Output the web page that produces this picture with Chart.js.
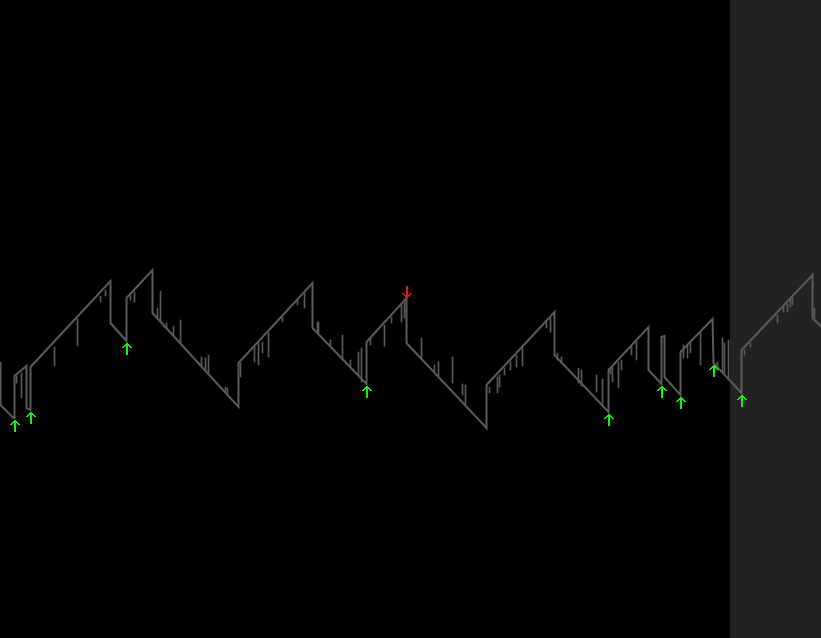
<!DOCTYPE html>
<html>
<head>
<meta charset="utf-8">
<script src="https://cdn.jsdelivr.net/npm/chart.js@4/dist/chart.umd.min.js"></script>
<style>
  html, body { margin: 0; padding: 0; background: #000; overflow: hidden; }
  #wrap { width: 821px; height: 638px; }
</style>
</head>
<body>
<div id="wrap"><canvas id="c" width="821" height="638"></canvas></div>
<script>
// ---- Data (bar index on x, price level on y) ----
// Close path turning points
const pathX = [0,0,13,14,14,26,26,30,30,110,110,126,126,152,152,238,238,312,312,366,366,406,406,486,486,554,554,608,608,648,648,661,661,664,664,680,680,712,713,741,741,812,812,821];
const pathPrice = [276,233,220,220,262,272,230,228,271,357,315,297,340,368,325,231,275,355,310,254,296,340,295,210,253,326,283,226,268,311,268,254,301,302,261,243,286,319,275,245,288,363,320,311];

// Wicks (bar index, high, low)
const wickX    = [16,21,54,77,100,105,130,134,157,160,166,173,180,201,205,208,225,227,240,254,258,262,268,282,297,304,317,318,330,342,350,358,361,370,384,391,401,404,421,434,438,452,462,465,489,497,499,504,510,516,522,546,550,557,561,578,581,596,602,610,612,618,621,631,636,683,687,690,700,717,722,724,728,744,750,777,783,787,790,792,814];
const wickHigh = [262,265,291,319,342,348,343,346,330,347,315,312,318,281,280,283,251,250,275,291,295,296,305,321,338,345,316,316,298,303,278,286,290,300,313,321,333,336,300,273,276,281,254,253,251,261,263,270,276,283,291,316,320,285,281,270,268,263,259,270,271,276,278,291,296,293,293,295,306,276,300,295,298,288,295,323,331,334,338,340,330];
const wickLow  = [255,240,272,292,336,342,338,336,320,317,310,303,295,272,268,265,246,243,261,276,273,285,281,316,333,330,306,305,293,280,272,262,256,293,292,315,316,320,280,266,262,255,243,233,245,245,251,263,268,271,272,310,306,278,274,255,252,246,233,264,256,250,268,283,278,280,280,285,273,270,266,265,260,283,291,315,326,326,331,333,320];

// Signals
const buyX = [14,30,126,366,608,661,680,713,741];
const buyLow = [220,228,297,254,226,254,243,275,245];
const sellX = [406];
const sellHigh = [340];

// Shaded (future) zone starts at this bar
const shadeFrom = 730;

// ---- Styles ----
const lineColor = '#5a5a5a';
const buyColor = '#14f014';
const sellColor = '#f01414';
const shadeColor = '#222222';

function makeArrow(color, up) {
  const cv = document.createElement('canvas');
  cv.width = 11; cv.height = 28;
  const g = cv.getContext('2d');
  g.fillStyle = color;
  const rows = [
    [[5,6]],
    [[4,7]],
    [[3,8]],
    [[2,3],[5,6],[8,9]],
    [[1,2],[5,6],[9,10]],
  ];
  const tip = up ? 16 : 13;
  for (let i = 0; i < 12; i++) {
    const spans = i < rows.length ? rows[i] : [[5,6]];
    const r = up ? tip + i : tip - i;
    spans.forEach(([a, b]) => g.fillRect(a, r, b - a + 1, 1));
  }
  return cv;
}

const bgPlugin = {
  id: 'bg',
  beforeDraw(chart) {
    const { ctx, width, height, scales } = chart;
    ctx.save();
    ctx.fillStyle = '#000';
    ctx.fillRect(0, 0, width, height);
    const x0 = scales.x.getPixelForValue(shadeFrom - 0.5);
    ctx.fillStyle = shadeColor;
    ctx.fillRect(x0, 0, width - x0, height);
    ctx.restore();
  }
};

new Chart(document.getElementById('c'), {
  type: 'line',
  data: {
    datasets: [
      {
        type: 'scatter',
        data: buyX.map((x, i) => ({ x, y: buyLow[i] })),
        pointStyle: makeArrow(buyColor, true),
        pointRadius: 5,
        clip: false,
        order: 0
      },
      {
        type: 'scatter',
        data: sellX.map((x, i) => ({ x, y: sellHigh[i] })),
        pointStyle: makeArrow(sellColor, false),
        pointRadius: 5,
        clip: false,
        order: 0
      },
      {
        type: 'line',
        data: pathX.map((x, i) => ({ x, y: pathPrice[i] })),
        borderColor: lineColor,
        borderWidth: 2,
        pointRadius: 0,
        tension: 0,
        fill: false,
        order: 1
      },
      {
        type: 'bar',
        data: wickX.map((x, i) => ({ x, y: [wickLow[i], wickHigh[i]] })),
        backgroundColor: lineColor,
        borderWidth: 0,
        barThickness: 1,
        grouped: false,
        order: 2
      }
    ]
  },
  options: {
    responsive: false,
    animation: false,
    devicePixelRatio: 1,
    layout: { padding: 0, autoPadding: false },
    plugins: { legend: { display: false }, tooltip: { enabled: false } },
    scales: {
      x: { type: 'linear', min: -0.5, max: 820.5, offset: false, display: false, grid: { offset: false } },
      y: { type: 'linear', min: 0, max: 638, display: false, beginAtZero: false }
    }
  },
  plugins: [bgPlugin]
});
</script>
</body>
</html>
